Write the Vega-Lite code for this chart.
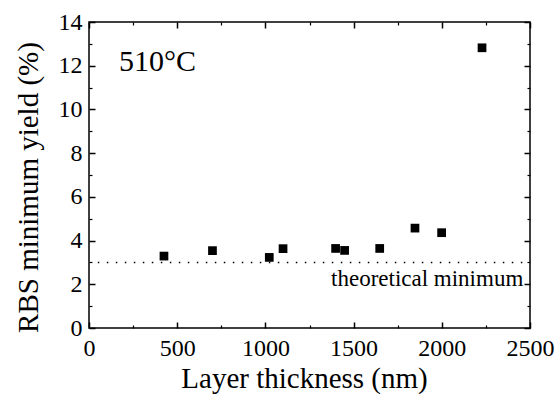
{
  "$schema": "https://vega.github.io/schema/vega-lite/v6.json",
  "width": 441,
  "height": 306,
  "autosize": "none",
  "padding": {"left": 89, "top": 22, "right": 29, "bottom": 66},
  "background": "white",
  "config": {
    "view": {"stroke": "black", "strokeWidth": 1.5},
    "font": "Liberation Serif",
    "axis": {"domain": false, "grid": false, "ticks": true, "tickColor": "black", "tickWidth": 1.5, "labelColor": "black", "titleColor": "black", "labelFont": "Liberation Serif", "titleFont": "Liberation Serif", "labelFontSize": 24, "titleFontSize": 29, "titleFontWeight": "normal", "labelOverlap": false, "labelFlush": false}
  },
  "datasets": {
    "points": [
      {"thickness": 425, "yield": 3.29},
      {"thickness": 700, "yield": 3.54},
      {"thickness": 1022, "yield": 3.23},
      {"thickness": 1100, "yield": 3.63},
      {"thickness": 1398, "yield": 3.64},
      {"thickness": 1449, "yield": 3.55},
      {"thickness": 1648, "yield": 3.64},
      {"thickness": 1848, "yield": 4.57},
      {"thickness": 1999, "yield": 4.36},
      {"thickness": 2228, "yield": 12.82}
    ],
    "minline": [{"x": 50, "x2": 2500, "y": 3}],
    "temp": [{"x": 170, "y": 11.77, "text": "510°C"}],
    "theo": [{"x": 2462, "y": 1.92, "text": "theoretical minimum"}]
  },
  "layer": [
    {
      "data": {"name": "points"},
      "mark": {"type": "point", "shape": "square", "filled": true, "color": "black", "size": 76, "opacity": 1},
      "encoding": {
        "x": {"field": "thickness", "type": "quantitative", "scale": {"domain": [0, 2500], "nice": false},
          "axis": {"orient": "bottom", "offset": -6, "tickSize": 6, "title": "Layer thickness (nm)", "values": [0, 500, 1000, 1500, 2000, 2500], "format": "d", "labelBaseline": "alphabetic", "labelPadding": 27, "titleX": 215, "titleY": 65, "titleBaseline": "alphabetic", "titleAlign": "center"}},
        "y": {"field": "yield", "type": "quantitative", "scale": {"domain": [0, 14], "nice": false},
          "axis": {"orient": "left", "offset": -6, "tickSize": 6, "title": "RBS minimum yield (%)", "values": [0, 2, 4, 6, 8, 10, 12, 14], "format": "d", "labelPadding": 7, "labelBaseline": "middle", "titleX": -58, "titleY": 165, "titleAngle": -90, "titleBaseline": "alphabetic", "titleAlign": "center"}}
      }
    },
    {
      "data": {"name": "minline"},
      "mark": {"type": "rule", "color": "black", "strokeWidth": 1.5, "strokeDash": [1.5, 7.5]},
      "encoding": {
        "x": {"field": "x", "type": "quantitative", "axis": {"orient": "top", "offset": -6, "tickSize": 6, "title": null, "values": [0, 500, 1000, 1500, 2000, 2500], "labels": false}},
        "x2": {"field": "x2"},
        "y": {"field": "y", "type": "quantitative", "axis": {"orient": "right", "offset": -6, "tickSize": 6, "title": null, "values": [0, 2, 4, 6, 8, 10, 12, 14], "labels": false}}
      }
    },
    {
      "data": {"name": "temp"},
      "mark": {"type": "text", "baseline": "alphabetic", "align": "left", "color": "black", "font": "Liberation Serif", "fontSize": 30},
      "encoding": {
        "x": {"field": "x", "type": "quantitative", "axis": {"orient": "bottom", "offset": -3, "tickSize": 3, "tickWidth": 1.2, "title": null, "values": [250, 750, 1250, 1750, 2250], "labels": false}},
        "y": {"field": "y", "type": "quantitative", "axis": {"orient": "left", "offset": -3, "tickSize": 3, "tickWidth": 1.2, "title": null, "values": [1, 3, 5, 7, 9, 11, 13], "labels": false}},
        "text": {"field": "text"}
      }
    },
    {
      "data": {"name": "theo"},
      "mark": {"type": "text", "baseline": "alphabetic", "align": "right", "color": "black", "font": "Liberation Serif", "fontSize": 23},
      "encoding": {
        "x": {"field": "x", "type": "quantitative", "axis": {"orient": "top", "offset": -3, "tickSize": 3, "tickWidth": 1.2, "title": null, "values": [250, 750, 1250, 1750, 2250], "labels": false}},
        "y": {"field": "y", "type": "quantitative", "axis": {"orient": "right", "offset": -3, "tickSize": 3, "tickWidth": 1.2, "title": null, "values": [1, 3, 5, 7, 9, 11, 13], "labels": false}},
        "text": {"field": "text"}
      }
    }
  ],
  "resolve": {"axis": {"x": "independent", "y": "independent"}}
}
